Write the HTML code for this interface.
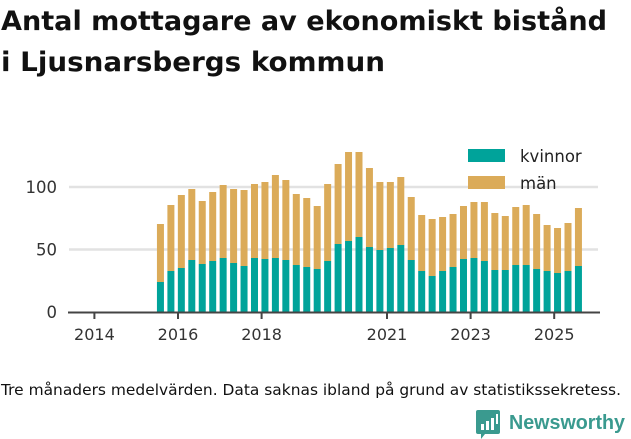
<!DOCTYPE html>
<html><head><meta charset="utf-8"><style>
body{margin:0;width:631px;height:439px;background:#fff;overflow:hidden;font-family:"DejaVu Sans","Liberation Sans",sans-serif;}
svg{position:absolute;left:0;top:0}
</style></head><body>
<svg width="631" height="439">
<text x="1" y="30" font-size="27" font-weight="bold" fill="#111" textLength="606" lengthAdjust="spacingAndGlyphs">Antal mottagare av ekonomiskt bistånd</text>
<text x="1" y="71" font-size="27" font-weight="bold" fill="#111" textLength="384" lengthAdjust="spacingAndGlyphs">i Ljusnarsbergs kommun</text>
<g id="grid"></g>
<g id="bars"></g>
<g id="axis"></g>
<g>
<rect x="468" y="149" width="37" height="13" fill="#00a39a"/>
<text x="520" y="162" font-size="16.5" fill="#222">kvinnor</text>
<rect x="468" y="176" width="37" height="13" fill="#dbab59"/>
<text x="520" y="189" font-size="16.5" fill="#222">män</text>
</g>
<text x="1" y="395" font-size="15" fill="#111" textLength="620" lengthAdjust="spacingAndGlyphs">Tre månaders medelvärden. Data saknas ibland på grund av statistikssekretess.</text>
<g>
<path d="M478 410 h20 a2 2 0 0 1 2 2 v20 a2 2 0 0 1 -2 2 h-13 l-4 5 v-5 h-3 a2 2 0 0 1 -2 -2 v-20 a2 2 0 0 1 2 -2z" fill="#3a9a8f"/>
<rect x="481" y="424" width="3" height="6" fill="#fff"/><rect x="486" y="421" width="3" height="9" fill="#fff"/><rect x="491" y="418" width="3" height="12" fill="#fff"/><rect x="496" y="414" width="2" height="10" fill="#fff"/>
<text x="509" y="429" font-size="20" font-weight="bold" fill="#3a9a8f" font-family="Liberation Sans" textLength="116" lengthAdjust="spacingAndGlyphs">Newsworthy</text>
</g>
</svg>
<script>
const kvinnor=[24,32.8,35.2,41.6,38.4,40.8,43.2,39.2,36.8,43.2,42.4,43.2,41.6,37.6,36,34.4,40.8,54.4,56.8,60,52,49.6,51.2,53.6,41.6,32.8,28.8,32.8,36,42.4,43.2,40.8,33.6,33.6,37.6,37.6,34.4,32.8,31.2,32.8,36.8];
const totals=[70.4,85.6,93.6,98.4,88.8,96,101.6,98.4,97.6,102.4,104,109.6,105.6,94.4,91.2,84.8,102.4,118.4,128,128,115.2,104,104,108,92,77.6,74.4,76,78.4,84.8,88,88,79.2,76.8,84,85.6,78.4,69.6,67.2,71.2,83.2];
const startYear=2015.58;
const yTicks=[0,50,100];
const xTicks=[2014,2016,2018,2021,2023,2025];
const NS="http://www.w3.org/2000/svg";
const x=v=>178+(v-2016)*41.8;
const y=v=>312-v*1.25;
function mk(t,a,p){const e=document.createElementNS(NS,t);for(const k in a)e.setAttribute(k,a[k]);p.appendChild(e);return e;}
const grid=document.getElementById('grid'),bars=document.getElementById('bars'),axis=document.getElementById('axis');
yTicks.forEach(v=>{
 if(v>0){const l=mk('line',{x1:69,x2:598,y1:y(v),y2:y(v),stroke:'#e2e2e2','stroke-width':2.5},grid);
 
 }
 const t=mk('text',{x:57,y:y(v)+6,'font-size':16.5,fill:'#333','text-anchor':'end'},axis);t.textContent=v;
 
 
});
totals.forEach((tot,i)=>{
 const cx=x(startYear+i*0.25),k=kvinnor[i];
 const m=mk('rect',{x:cx-3.5,y:y(tot),width:7,height:y(k)-y(tot),fill:'#dbab59'},bars);
 
 
 const r=mk('rect',{x:cx-3.5,y:y(k),width:7,height:y(0)-y(k),fill:'#00a39a'},bars);
 
 
});
const ax=mk('line',{x1:68,x2:600,y1:312.5,y2:312.5,stroke:'#444','stroke-width':2},axis);


xTicks.forEach(v=>{
 mk('line',{x1:x(v),x2:x(v),y1:313,y2:319,stroke:'#444','stroke-width':2},axis);
 const t=mk('text',{x:x(v),y:340,'font-size':16,fill:'#333','text-anchor':'middle'},axis);t.textContent=v;
 
 
});
</script>
</body></html>
